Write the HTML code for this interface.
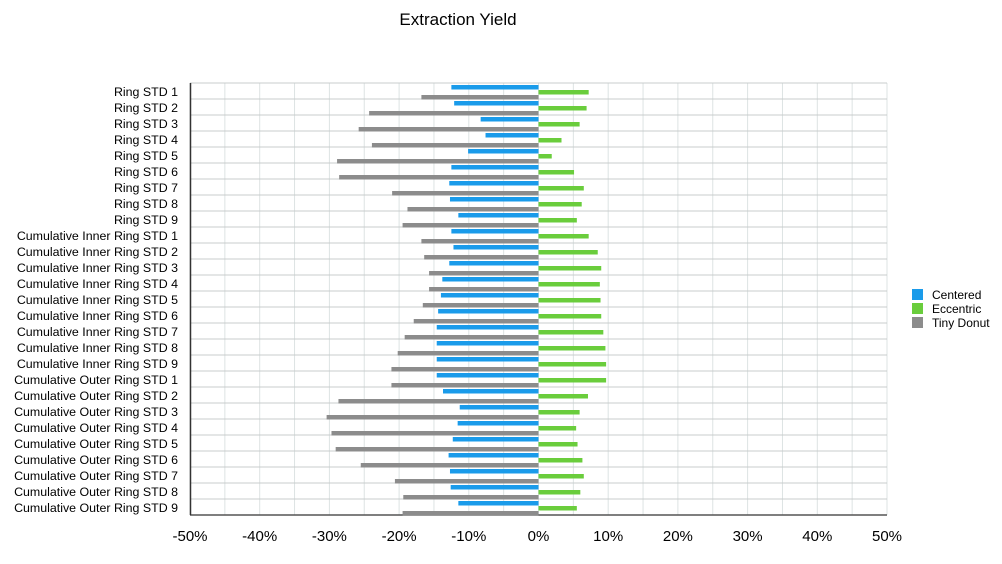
<!DOCTYPE html>
<html><head><meta charset="utf-8"><style>
body{margin:0;background:#fff;}
svg{display:block;font-family:"Liberation Sans",sans-serif;}
</style></head><body>
<svg id="c" width="1002" height="564">
<text x="458" y="25" font-size="17" text-anchor="middle">Extraction Yield</text>
<g id="grid"></g><g id="bars"></g><g id="labels"></g><g id="ticks"></g>
<g>
<rect x="912" y="289" width="11" height="11" fill="#1a9bea"/>
<text x="932" y="299" font-size="12">Centered</text>
<rect x="912" y="303" width="11" height="11" fill="#6acd3c"/>
<text x="932" y="313" font-size="12">Eccentric</text>
<rect x="912" y="317" width="11" height="11" fill="#8c8c8c"/>
<text x="932" y="327" font-size="12">Tiny Donut</text>
</g>
</svg>
<script>
const categories=["Ring STD 1","Ring STD 2","Ring STD 3","Ring STD 4","Ring STD 5","Ring STD 6","Ring STD 7","Ring STD 8","Ring STD 9",
"Cumulative Inner Ring STD 1","Cumulative Inner Ring STD 2","Cumulative Inner Ring STD 3","Cumulative Inner Ring STD 4","Cumulative Inner Ring STD 5","Cumulative Inner Ring STD 6","Cumulative Inner Ring STD 7","Cumulative Inner Ring STD 8","Cumulative Inner Ring STD 9",
"Cumulative Outer Ring STD 1","Cumulative Outer Ring STD 2","Cumulative Outer Ring STD 3","Cumulative Outer Ring STD 4","Cumulative Outer Ring STD 5","Cumulative Outer Ring STD 6","Cumulative Outer Ring STD 7","Cumulative Outer Ring STD 8","Cumulative Outer Ring STD 9"];
const centered=[-12.5,-12.1,-8.3,-7.6,-10.1,-12.5,-12.8,-12.7,-11.5,-12.5,-12.2,-12.8,-13.8,-14.0,-14.4,-14.6,-14.6,-14.6,-14.6,-13.7,-11.3,-11.6,-12.3,-12.9,-12.7,-12.6,-11.5];
const eccentric=[7.2,6.9,5.9,3.3,1.9,5.1,6.5,6.2,5.5,7.2,8.5,9.0,8.8,8.9,9.0,9.3,9.6,9.7,9.7,7.1,5.9,5.4,5.6,6.3,6.5,6.0,5.5];
const tinyDonut=[-16.8,-24.3,-25.8,-23.9,-28.9,-28.6,-21.0,-18.8,-19.5,-16.8,-16.4,-15.7,-15.7,-16.6,-17.9,-19.2,-20.2,-21.1,-21.1,-28.7,-30.4,-29.7,-29.1,-25.5,-20.6,-19.4,-19.5];
const tickValues=[-50,-40,-30,-20,-10,0,10,20,30,40,50];
const tickLabels=["-50%","-40%","-30%","-20%","-10%","0%","10%","20%","30%","40%","50%"];
const NS="http://www.w3.org/2000/svg";
const X0=190,X1=887,Y0=83,RH=16;
const xs=v=>X0+(v+50)/100*(X1-X0);
const ys=i=>Y0+i*RH;
function mk(tag,attrs,parent){const e=document.createElementNS(NS,tag);for(const k in attrs)e.setAttribute(k,attrs[k]);document.getElementById(parent).appendChild(e);return e;}
const Y1=ys(categories.length);
for(let v=-50;v<=50;v+=5){
 const l=mk('line',{x1:xs(v),x2:xs(v),y1:Y0,y2:Y1,stroke:'#dde3e3','stroke-width':1},'grid');
 
 
}
for(let i=0;i<=categories.length;i++){
 const l=mk('line',{x1:X0,x2:X1,y1:ys(i),y2:ys(i),stroke:i===categories.length?'#555':'#c8cccc','stroke-width':i===categories.length?1.5:1},'grid');
 
 
}
const ax=mk('line',{x1:X0+0.5,x2:X0+0.5,y1:Y0,y2:Y1,stroke:'#333','stroke-width':1.5},'grid');


const series=[[centered,'#1a9bea',2,'centered'],[eccentric,'#6acd3c',7,'eccentric'],[tinyDonut,'#8c8c8c',12,'tiny-donut']];
categories.forEach((c,i)=>{
 series.forEach(([arr,col,off,nm])=>{
  const v=arr[i],a=xs(0),b=xs(v);
  const r=mk('rect',{x:Math.min(a,b),y:ys(i)+off,width:Math.abs(b-a),height:4.5,fill:col},'bars');
  
  
 });
 const t=mk('text',{x:178,y:ys(i)+13,'font-size':12.4,'text-anchor':'end'},'labels');
 t.textContent=c;
 
 
});
tickValues.forEach((v,k)=>{
 const t=mk('text',{x:xs(v),y:541,'font-size':15,'text-anchor':'middle'},'ticks');
 t.textContent=tickLabels[k];
 
 
});
</script>
</body></html>
